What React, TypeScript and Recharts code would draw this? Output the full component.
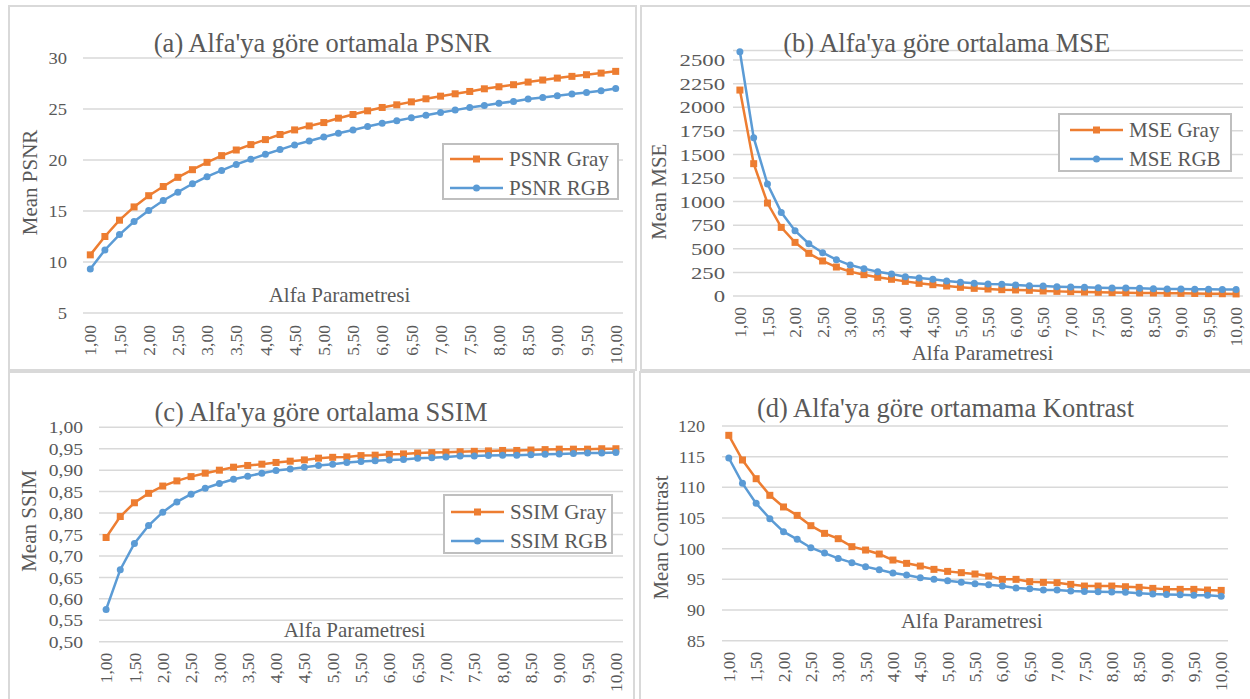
import React from 'react';
import { LineChart, Line, XAxis, YAxis, CartesianGrid, Legend } from 'recharts';

const FONT = '"Liberation Serif", "Times New Roman", serif';
const TEXT = '#595959';
const ORANGE = '#ED7D31';
const BLUE = '#5B9BD5';
const GRID = '#d9d9d9';

const alphas = [
  '1,00', '1,25', '1,50', '1,75', '2,00', '2,25', '2,50', '2,75', '3,00', '3,25',
  '3,50', '3,75', '4,00', '4,25', '4,50', '4,75', '5,00', '5,25', '5,50', '5,75',
  '6,00', '6,25', '6,50', '6,75', '7,00', '7,25', '7,50', '7,75', '8,00', '8,25',
  '8,50', '8,75', '9,00', '9,25', '9,50', '9,75', '10,00',
];

const psnrGray = [
  10.7, 12.5, 14.1, 15.4, 16.5, 17.4, 18.3, 19.05, 19.77, 20.43,
  20.98, 21.51, 22.0, 22.5, 22.95, 23.34, 23.67, 24.1, 24.46, 24.82,
  25.15, 25.41, 25.7, 26.0, 26.26, 26.49, 26.72, 26.98, 27.18, 27.38,
  27.64, 27.84, 28.03, 28.2, 28.36, 28.52, 28.69,
];
const psnrRgb = [
  9.31, 11.18, 12.69, 13.97, 15.05, 16.03, 16.85, 17.67, 18.36, 18.98,
  19.57, 20.07, 20.56, 21.02, 21.48, 21.87, 22.26, 22.62, 22.95, 23.28,
  23.61, 23.84, 24.13, 24.39, 24.66, 24.89, 25.15, 25.34, 25.57, 25.74,
  25.97, 26.13, 26.3, 26.46, 26.62, 26.79, 27.02,
];

const mseGray = [
  2182, 1402, 985, 727, 568, 452, 371, 307, 258, 226,
  198, 177, 155, 134, 120, 106, 92, 81, 74, 67,
  64, 60, 53, 49, 46, 42, 39, 36, 35, 33,
  32, 29, 28, 27, 25, 24, 22,
];
const mseRgb = [
  2588, 1677, 1186, 886, 692, 554, 459, 385, 328, 290,
  258, 233, 205, 191, 177, 159, 145, 134, 127, 124,
  117, 109, 106, 99, 95, 92, 88, 85, 84, 81,
  78, 75, 74, 72, 71, 70, 69,
];

const ssimGray = [
  0.743, 0.792, 0.824, 0.846, 0.863, 0.875, 0.885, 0.893, 0.9, 0.907,
  0.911, 0.914, 0.918, 0.921, 0.924, 0.928, 0.93, 0.931, 0.934, 0.935,
  0.937, 0.938, 0.94, 0.941, 0.942, 0.943, 0.944, 0.945, 0.946, 0.946,
  0.947, 0.948, 0.949, 0.949, 0.949, 0.95, 0.95,
];
const ssimRgb = [
  0.575, 0.668, 0.729, 0.771, 0.802, 0.826, 0.844, 0.858, 0.869, 0.879,
  0.886, 0.893, 0.899, 0.903, 0.907, 0.911, 0.914, 0.918, 0.92, 0.922,
  0.924, 0.925, 0.928, 0.929, 0.931, 0.933, 0.933, 0.934, 0.935, 0.935,
  0.936, 0.937, 0.938, 0.939, 0.94, 0.94, 0.941,
];

const contrastGray = [
  118.48, 114.46, 111.41, 108.7, 106.8, 105.43, 103.75, 102.5, 101.63, 100.33,
  99.78, 99.13, 98.15, 97.61, 97.17, 96.63, 96.3, 96.09, 95.87, 95.54,
  95.0, 95.0, 94.62, 94.51, 94.46, 94.18, 93.91, 93.91, 93.91, 93.8,
  93.7, 93.53, 93.37, 93.37, 93.37, 93.26, 93.2,
];
const contrastRgb = [
  114.78, 110.65, 107.39, 104.89, 102.77, 101.52, 100.16, 99.29, 98.42, 97.72,
  97.07, 96.58, 96.03, 95.71, 95.27, 95.0, 94.78, 94.51, 94.29, 94.13,
  93.91, 93.59, 93.48, 93.26, 93.26, 93.1, 93.04, 92.99, 92.93, 92.88,
  92.72, 92.61, 92.55, 92.5, 92.39, 92.39, 92.23,
];

const psnrTicks = [5, 10, 15, 20, 25, 30];
const mseTicks = [0, 250, 500, 750, 1000, 1250, 1500, 1750, 2000, 2250, 2500];
const ssimTicks = [0.5, 0.55, 0.6, 0.65, 0.7, 0.75, 0.8, 0.85, 0.9, 0.95, 1.0];
const contrastTicks = [85, 90, 95, 100, 105, 110, 115, 120];

const comma2 = (v: number) => v.toFixed(2).replace('.', ',');
const plain = (v: number) => String(v);

function XTick({ x, y, payload }: any) {
  return (
    <text
      x={0}
      y={0}
      transform={`translate(${x},${y}) rotate(-90)`}
      textAnchor="end"
      dy="0.35em"
      fill={TEXT}
      fontSize={17.5}
      fontFamily={FONT}
    >
      {payload.value}
    </text>
  );
}

// y labels in the source are a little wider than plain Times, so stretch them sideways
function YTick({ x, y, payload, fmt, sx }: any) {
  return (
    <text
      x={0}
      y={0}
      transform={`translate(${x},${y}) scale(${sx},1)`}
      textAnchor="end"
      dy="0.35em"
      fill={TEXT}
      fontSize={17.5}
      fontFamily={FONT}
    >
      {fmt(payload.value)}
    </text>
  );
}

const squareDot = (p: any) => (
  <rect key={`sq-${p.index}`} x={p.cx - 3.5} y={p.cy - 3.5} width={7} height={7} fill={ORANGE} />
);

interface LegendBoxInfo {
  x: number;
  y: number;
  w: number;
  h: number;
  padLeft: number;
  padTop: number;
}

function LegendBox({ payload, box }: { payload: any[]; box: LegendBoxInfo }) {
  return (
    <div
      style={{
        width: box.w,
        height: box.h,
        boxSizing: 'border-box',
        border: '2px solid #bfbfbf',
        background: '#fff',
        paddingLeft: box.padLeft,
        paddingTop: box.padTop,
        fontFamily: FONT,
        fontSize: 21,
        color: TEXT,
      }}
    >
      {(payload || []).map((entry: any) => {
        const isGray = String(entry.value).includes('Gray');
        const col = isGray ? ORANGE : BLUE;
        return (
          <div key={entry.value} style={{ display: 'flex', alignItems: 'center', height: 28.5 }}>
            <svg width={53} height={12} style={{ marginRight: 6 }}>
              <line x1={0} y1={6} x2={53} y2={6} stroke={col} strokeWidth={2.5} />
              {isGray ? (
                <rect x={23} y={2.5} width={7} height={7} fill={col} />
              ) : (
                <circle cx={26.5} cy={6} r={3.5} fill={col} />
              )}
            </svg>
            <span style={{ lineHeight: '28px', whiteSpace: 'nowrap' }}>{entry.value}</span>
          </div>
        );
      })}
    </div>
  );
}

interface PanelProps {
  left: number;
  top: number;
  width: number;
  height: number;
  margin: { top: number; right: number; bottom: number; left: number };
  domain: [number, number];
  ticks: number[];
  yFmt: (v: number) => string;
  ySx: number;
  yGap: number;
  xGap: number;
  pad: number;
  gray: number[];
  rgb: number[];
  grayName: string;
  rgbName: string;
  legend?: LegendBoxInfo;
}

function Panel(p: PanelProps) {
  const data = alphas.map((a, i) => ({ alpha: a, gray: p.gray[i], rgb: p.rgb[i] }));
  return (
    <div style={{ position: 'absolute', left: p.left, top: p.top }}>
      <LineChart width={p.width} height={p.height} data={data} margin={p.margin}>
        <CartesianGrid vertical={false} stroke={GRID} strokeWidth={1.5} />
        <XAxis
          dataKey="alpha"
          interval={1}
          axisLine={false}
          tickLine={false}
          tickSize={0}
          tickMargin={p.xGap}
          height={50}
          padding={{ left: p.pad, right: p.pad }}
          tick={<XTick />}
        />
        <YAxis
          domain={p.domain}
          ticks={p.ticks}
          interval={0}
          axisLine={false}
          tickLine={false}
          tickSize={0}
          tickMargin={p.yGap}
          width={60}
          tick={<YTick fmt={p.yFmt} sx={p.ySx} />}
        />
        {p.legend && (
          <Legend
            layout="vertical"
            align="center"
            verticalAlign="middle"
            wrapperStyle={{ left: p.legend.x - p.left, top: p.legend.y - p.top, width: p.legend.w }}
            content={(props: any) => <LegendBox payload={props.payload} box={p.legend!} />}
          />
        )}
        <Line
          type="linear"
          dataKey="gray"
          name={p.grayName}
          stroke={ORANGE}
          strokeWidth={2.5}
          dot={squareDot}
          activeDot={false}
          isAnimationActive={false}
        />
        <Line
          type="linear"
          dataKey="rgb"
          name={p.rgbName}
          stroke={BLUE}
          strokeWidth={2.5}
          dot={{ r: 3.5, fill: BLUE, stroke: BLUE, strokeWidth: 0 }}
          activeDot={false}
          isAnimationActive={false}
        />
      </LineChart>
    </div>
  );
}

function Frame({ left, top, width, height }: { left: number; top: number; width: number; height: number }) {
  return (
    <div
      style={{
        position: 'absolute',
        left,
        top,
        width,
        height,
        boxSizing: 'border-box',
        border: `2px solid ${GRID}`,
      }}
    />
  );
}

const labelStyle = { fill: TEXT, fontFamily: FONT } as const;

export default function App() {
  return (
    <div
      style={{
        position: 'absolute',
        left: 0,
        top: 0,
        width: 1250,
        height: 699,
        background: '#fff',
        overflow: 'hidden',
      }}
    >
      <Frame left={8} top={5} width={629} height={366} />
      <Frame left={640} top={5} width={620} height={366} />
      <Frame left={8} top={371} width={627} height={340} />
      <Frame left={639} top={371} width={620} height={340} />

      <Panel
        left={9}
        top={6}
        width={627}
        height={364}
        margin={{ top: 52, right: 13, bottom: 7, left: 14 }}
        domain={[5, 30]}
        ticks={psnrTicks}
        yFmt={plain}
        ySx={1.06}
        yGap={16}
        xGap={12}
        pad={7.3}
        gray={psnrGray}
        rgb={psnrRgb}
        grayName="PSNR Gray"
        rgbName="PSNR RGB"
        legend={{ x: 442, y: 143, w: 177, h: 57, padLeft: 6, padTop: 0 }}
      />
      <Panel
        left={641}
        top={6}
        width={609}
        height={364}
        margin={{ top: 44.6, right: 7, bottom: 24, left: 32 }}
        domain={[0, 2600]}
        ticks={mseTicks}
        yFmt={plain}
        ySx={1.3}
        yGap={8}
        xGap={11}
        pad={6.9}
        gray={mseGray}
        rgb={mseRgb}
        grayName="MSE Gray"
        rgbName="MSE RGB"
        legend={{ x: 1058, y: 113, w: 174, h: 59, padLeft: 10, padTop: 1 }}
      />
      <Panel
        left={9}
        top={372}
        width={625}
        height={327}
        margin={{ top: 55.3, right: 11, bottom: 7.3, left: 30 }}
        domain={[0.5, 1]}
        ticks={ssimTicks}
        yFmt={comma2}
        ySx={1.12}
        yGap={16}
        xGap={11}
        pad={7.1}
        gray={ssimGray}
        rgb={ssimRgb}
        grayName="SSIM Gray"
        rgbName="SSIM RGB"
        legend={{ x: 443, y: 494, w: 170, h: 60, padLeft: 6, padTop: 2 }}
      />
      <Panel
        left={640}
        top={372}
        width={610}
        height={327}
        margin={{ top: 54, right: 22, bottom: 8.3, left: 22 }}
        domain={[85, 120]}
        ticks={contrastTicks}
        yFmt={plain}
        ySx={1.03}
        yGap={17}
        xGap={11}
        pad={6.8}
        gray={contrastGray}
        rgb={contrastRgb}
        grayName="Kontrast Gray"
        rgbName="Kontrast RGB"
      />

      <svg
        width={1250}
        height={699}
        style={{ position: 'absolute', left: 0, top: 0, pointerEvents: 'none' }}
      >
        <g {...labelStyle} fontSize={26.5} textAnchor="middle">
          <text x={322.5} y={52}>(a) Alfa'ya  göre ortamala PSNR</text>
          <text x={946.7} y={52}>(b) Alfa'ya  göre ortalama MSE</text>
          <text x={321} y={421}>(c) Alfa'ya  göre ortalama SSIM</text>
          <text x={945.5} y={417}>(d) Alfa'ya  göre ortamama Kontrast</text>
        </g>
        <g {...labelStyle} fontSize={21} textAnchor="middle">
          <text x={339.5} y={302}>Alfa Parametresi</text>
          <text x={982.5} y={360}>Alfa Parametresi</text>
          <text x={354.5} y={636.7}>Alfa Parametresi</text>
          <text x={971.8} y={628.3}>Alfa Parametresi</text>
        </g>
        <g {...labelStyle} fontSize={21} textAnchor="middle">
          <text transform="translate(30,182.5) rotate(-90)" dy="0.33em">Mean PSNR</text>
          <text transform="translate(659,191.7) rotate(-90)" dy="0.33em">Mean MSE</text>
          <text transform="translate(29.5,520.8) rotate(-90)" dy="0.33em">Mean SSIM</text>
          <text transform="translate(661,537.5) rotate(-90)" dy="0.33em">Mean Contrast</text>
        </g>
      </svg>
    </div>
  );
}
